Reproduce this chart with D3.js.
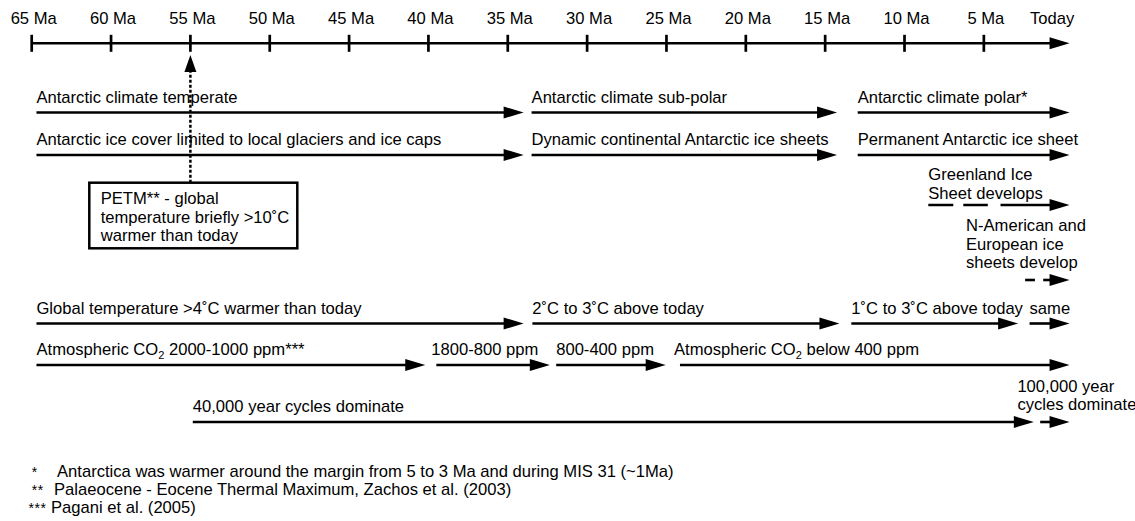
<!DOCTYPE html>
<html>
<head>
<meta charset="utf-8">
<script src="https://cdn.jsdelivr.net/npm/d3@7"></script>
<style>
  html, body { margin: 0; padding: 0; background: #fff; }
  svg { display: block; }
  text { font-family: "Liberation Sans", Arial, sans-serif; font-size: 16.6px; fill: #000; }
</style>
</head>
<body>
<svg id="chart" width="1135" height="521"></svg>
<script>
// ---------------- DATA (ages in Ma) ----------------
const tickValues = [65, 60, 55, 50, 45, 40, 35, 30, 25, 20, 15, 10, 5, 0];
const tickLabels = ["65 Ma", "60 Ma", "55 Ma", "50 Ma", "45 Ma", "40 Ma", "35 Ma", "30 Ma", "25 Ma", "20 Ma", "15 Ma", "10 Ma", "5 Ma", "Today"];
const axisEnd = -0.4;

const climateLabels = ["Antarctic climate temperate", "Antarctic climate sub-polar", "Antarctic climate polar*"];
const climateStart = [64.7, 33.5, 12.95];
const climateEnd = [34.0, 14.25, -0.4];

const iceLabels = ["Antarctic ice cover limited to local glaciers and ice caps", "Dynamic continental Antarctic ice sheets", "Permanent Antarctic ice sheet"];
const iceStart = [64.7, 33.5, 12.95];
const iceEnd = [34.0, 14.25, -0.4];

const greenlandLabel = ["Greenland Ice", "Sheet develops"];
const greenlandDashed = [8.5, 4.75];
const greenlandSolid = [3.95, -0.4];

const naLabel = ["N-American and", "European ice", "sheets develop"];
const naDashed = [2.4, 1.78];
const naSolid = [1.26, -0.4];

const tempLabels = ["Global temperature >4˚C warmer than today", "2˚C to 3˚C above today", "1˚C to 3˚C above today", "same"];
const tempStart = [64.7, 33.45, 13.35, 2.12];
const tempEnd = [34.0, 14.1, 2.84, -0.4];

const co2Labels = [["Atmospheric CO", "2", " 2000-1000 ppm***"], ["1800-800 ppm", "", ""], ["800-400 ppm", "", ""], ["Atmospheric CO", "2", " below 400 ppm"]];
const co2Start = [64.7, 39.5, 31.95, 24.15];
const co2End = [40.2, 32.35, 25.05, -0.4];

const cycleLabels = [["40,000 year cycles dominate"], ["100,000 year", "cycles dominate"]];
const cycleStart = [54.85, 1.45];
const cycleEnd = [1.85, -0.4];

const petmAge = 55;
const petmLines = ["PETM** - global", "temperature briefly >10˚C", "warmer than today"];

const footMarks = ["*", "**", "***"];
const footTexts = [
  "Antarctica was warmer around the margin from 5 to 3 Ma and during MIS 31 (~1Ma)",
  "Palaeocene - Eocene Thermal Maximum, Zachos et al. (2003)",
  "Pagani et al. (2005)"
];

// ---------------- DRAWING ----------------
const svg = d3.select("#chart");
const x = d3.scaleLinear().domain([65, 0]).range([31.7, 1063.2]);

const LW = 2.6, HEAD_L = 20, HEAD_H = 12;

function arrow(g, a0, a1, y, opts = {}) {
  const x0 = x(a0), x1 = x(a1);
  g.append("line")
    .attr("x1", x0).attr("x2", x1 - HEAD_L + 2)
    .attr("y1", y).attr("y2", y)
    .attr("stroke", "#000").attr("stroke-width", LW)
    .attr("stroke-dasharray", opts.dash || null);
  g.append("path")
    .attr("d", `M${x1},${y} L${x1 - HEAD_L},${y - HEAD_H / 2} L${x1 - HEAD_L},${y + HEAD_H / 2} Z`)
    .attr("fill", "#000");
}
function dashed(g, a0, a1, y, dash) {
  g.append("line")
    .attr("x1", x(a0)).attr("x2", x(a1))
    .attr("y1", y).attr("y2", y)
    .attr("stroke", "#000").attr("stroke-width", LW)
    .attr("stroke-dasharray", dash);
}
function label(g, xp, y, str) {
  return g.append("text").attr("x", xp).attr("y", y).text(str);
}

// Time axis
const axisY = 43.3;
const axisG = svg.append("g");
arrow(axisG, 65, axisEnd, axisY);
axisG.selectAll("line.tick").data(tickValues.slice(0, -1)).join("line")
  .attr("class", "tick")
  .attr("x1", d => x(d)).attr("x2", d => x(d))
  .attr("y1", axisY - 8.5).attr("y2", axisY + 8.5)
  .attr("stroke", "#000").attr("stroke-width", 2.7);
axisG.selectAll("text.tl").data(tickValues).join("text")
  .attr("class", "tl")
  .attr("x", (d, i) => x(d) + (i === tickValues.length - 1 ? -11 : 2))
  .attr("y", 24)
  .attr("text-anchor", "middle")
  .text((d, i) => tickLabels[i]);

// Row helper
function row(labels, starts, ends, lineY, textY) {
  const g = svg.append("g");
  labels.forEach((l, i) => {
    arrow(g, starts[i], ends[i], lineY);
    label(g, x(starts[i]), textY, l);
  });
}
row(climateLabels, climateStart, climateEnd, 112.5, 103);
row(iceLabels, iceStart, iceEnd, 155, 145);
row(tempLabels, tempStart, tempEnd, 323.5, 313.5);

// CO2 row with subscripts
const co2G = svg.append("g");
co2Labels.forEach((parts, i) => {
  arrow(co2G, co2Start[i], co2End[i], 365);
  const t = co2G.append("text").attr("x", x(co2Start[i]) + (i === 1 ? -5 : (i === 3 ? -6 : 0))).attr("y", 355);
  t.append("tspan").text(parts[0]);
  if (parts[1]) {
    t.append("tspan").attr("dy", 4).style("font-size", "11px").text(parts[1]);
    t.append("tspan").attr("dy", -4).text(parts[2]);
  }
});

// Greenland
const grG = svg.append("g");
dashed(grG, greenlandDashed[0], greenlandDashed[1], 205, "25,10");
arrow(grG, greenlandSolid[0], greenlandSolid[1], 205);
greenlandLabel.forEach((l, i) => label(grG, x(greenlandDashed[0]), 180 + i * 18.5, l));

// N-American / European
const naG = svg.append("g");
dashed(naG, naDashed[0], naDashed[1], 280, "10,10");
arrow(naG, naSolid[0], naSolid[1], 280);
naLabel.forEach((l, i) => label(naG, 966, 231 + i * 18.5, l));

// Cycles
const cyG = svg.append("g");
cycleLabels.forEach((lines, i) => {
  arrow(cyG, cycleStart[i], cycleEnd[i], 422);
  const top = 412 - (lines.length - 1) * 18.5;
  lines.forEach((l, j) => label(cyG, i === 0 ? x(cycleStart[i]) : 1017.4, top + j * 18.5 - (i === 1 ? 2 : 0), l));
});

// PETM box and dotted arrow
const pG = svg.append("g");
const px = x(petmAge);
const boxTop = 182.7;
pG.append("line")
  .attr("x1", px).attr("x2", px)
  .attr("y1", boxTop).attr("y2", 71)
  .attr("stroke", "#000").attr("stroke-width", 2.5)
  .attr("stroke-dasharray", "3,2");
pG.append("path")
  .attr("d", `M${px},${55} L${px - 6},${72} L${px + 6},${72} Z`)
  .attr("fill", "#000");
pG.append("rect")
  .attr("x", 89.3).attr("y", boxTop)
  .attr("width", 208).attr("height", 65.6)
  .attr("fill", "#fff").attr("stroke", "#000").attr("stroke-width", 2.5);
petmLines.forEach((l, i) => label(pG, 100.7, 204 + i * 18.5, l));

// Footnotes
const fG = svg.append("g");
const markX = [31.7, 31.7, 28.5];
const footX = [57, 54, 51];
footMarks.forEach((m, i) => {
  label(fG, markX[i], 477 + i * 17.8, m).style("font-size", "14px").style("letter-spacing", "0.5px");
  label(fG, footX[i], 477 + i * 17.8, footTexts[i]);
});
</script>
</body>
</html>
